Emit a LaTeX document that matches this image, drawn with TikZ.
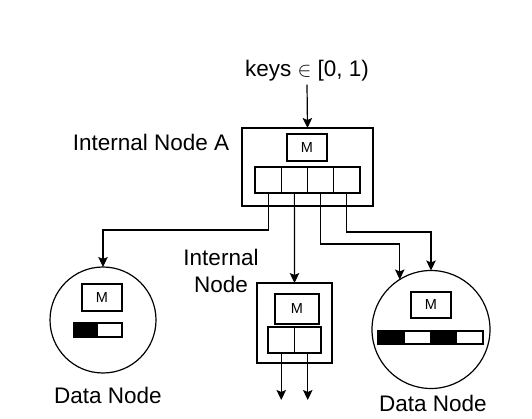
\documentclass[tikz,border=0pt]{standalone}
\usepackage{fontspec}
\setmainfont{Liberation Sans}
\usetikzlibrary{arrows.meta}

\begin{document}
\begin{tikzpicture}[x=1pt, y=-1pt,
    box/.style={draw, line width=1.2pt, inner sep=0pt, outer sep=0pt},
    mbox/.style={box, font=\fontsize{14.5}{16}\selectfont, minimum width=40pt, minimum height=27pt},
    slot/.style={box, minimum width=26.25pt, minimum height=26pt},
    datanode/.style={box, circle},
    link/.style={line width=1.2pt, -{Stealth[length=10pt, width=9.5pt, inset=2pt]}},
    lbl/.style={font=\fontsize{22.5}{27}\selectfont, inner sep=3pt}]

    \useasboundingbox (0,0) rectangle (532,419);

    % keys
    \node[lbl] (keys) at (307,71) {keys $\in$ [0, 1)};

    % internal node A
    \node[box, minimum width=131pt, minimum height=78pt] (nodeA) at (307.5,167) {};
    \node[mbox] (mA) at (307,147.5) {M};
    \foreach \i in {1,...,4}
        \node[slot] (sA\i) at ({255+26.25*\i-13.125},180) {};
    \node[lbl] (labelA) at (151,142) {Internal Node A};

    % left data node
    \node[datanode, minimum size=106pt] (dataL) at (103,320) {};
    \node[mbox] (mL) at (102,297.5) {M};
    \draw[line width=1.2pt, fill=black] (74,323) rectangle (97,337);
    \draw[line width=1.2pt] (97,323) rectangle (122,337);
    \node[lbl] (labelL) at (108,395) {Data Node};

    % internal node
    \node[box, minimum width=75pt, minimum height=80pt] (nodeI) at (294.5,323) {};
    \node[mbox, minimum width=44pt, minimum height=30pt] (mI) at (297,309) {M};
    \node[slot, minimum width=26.5pt] (sI1) at (281.25,340) {};
    \node[slot, minimum width=26.5pt] (sI2) at (307.75,340) {};
    \node[lbl, align=center] (labelI) at (221,271) {Internal\\Node};
    \coordinate (outI1) at (281.25,400);
    \coordinate (outI2) at (307.75,400);

    % right data node
    \node[datanode, minimum size=118pt] (dataR) at (431,329.5) {};
    \node[mbox, minimum height=26pt] (mR) at (431,305) {M};
    \foreach \i in {0,...,3} {
        \pgfmathsetmacro{\shade}{mod(\i,2)==0 ? 100 : 0}
        \draw[line width=1.2pt, fill=black!\shade] ({378+26.25*\i},331) rectangle ({378+26.25*(\i+1)},344);
    }
    \node[lbl] (labelR) at (433,403) {Data Node};

    % pointers
    \draw[link] (keys.south) -- (nodeA.north);
    \draw[link] (sA1.south) -- (sA1.south |- 0,230) -| (dataL.north);
    \draw[link] (sA2.south) -- (nodeI.north);
    \draw[link] (sA3.south) -- (sA3.south |- 0,244) -| (dataR.122.8);
    \draw[link] (sA4.south) -- (sA4.south |- 0,232) -| (dataR.north);
    \draw[link] (sI1.south) -- (outI1);
    \draw[link] (sI2.south) -- (outI2);

\end{tikzpicture}
\end{document}
